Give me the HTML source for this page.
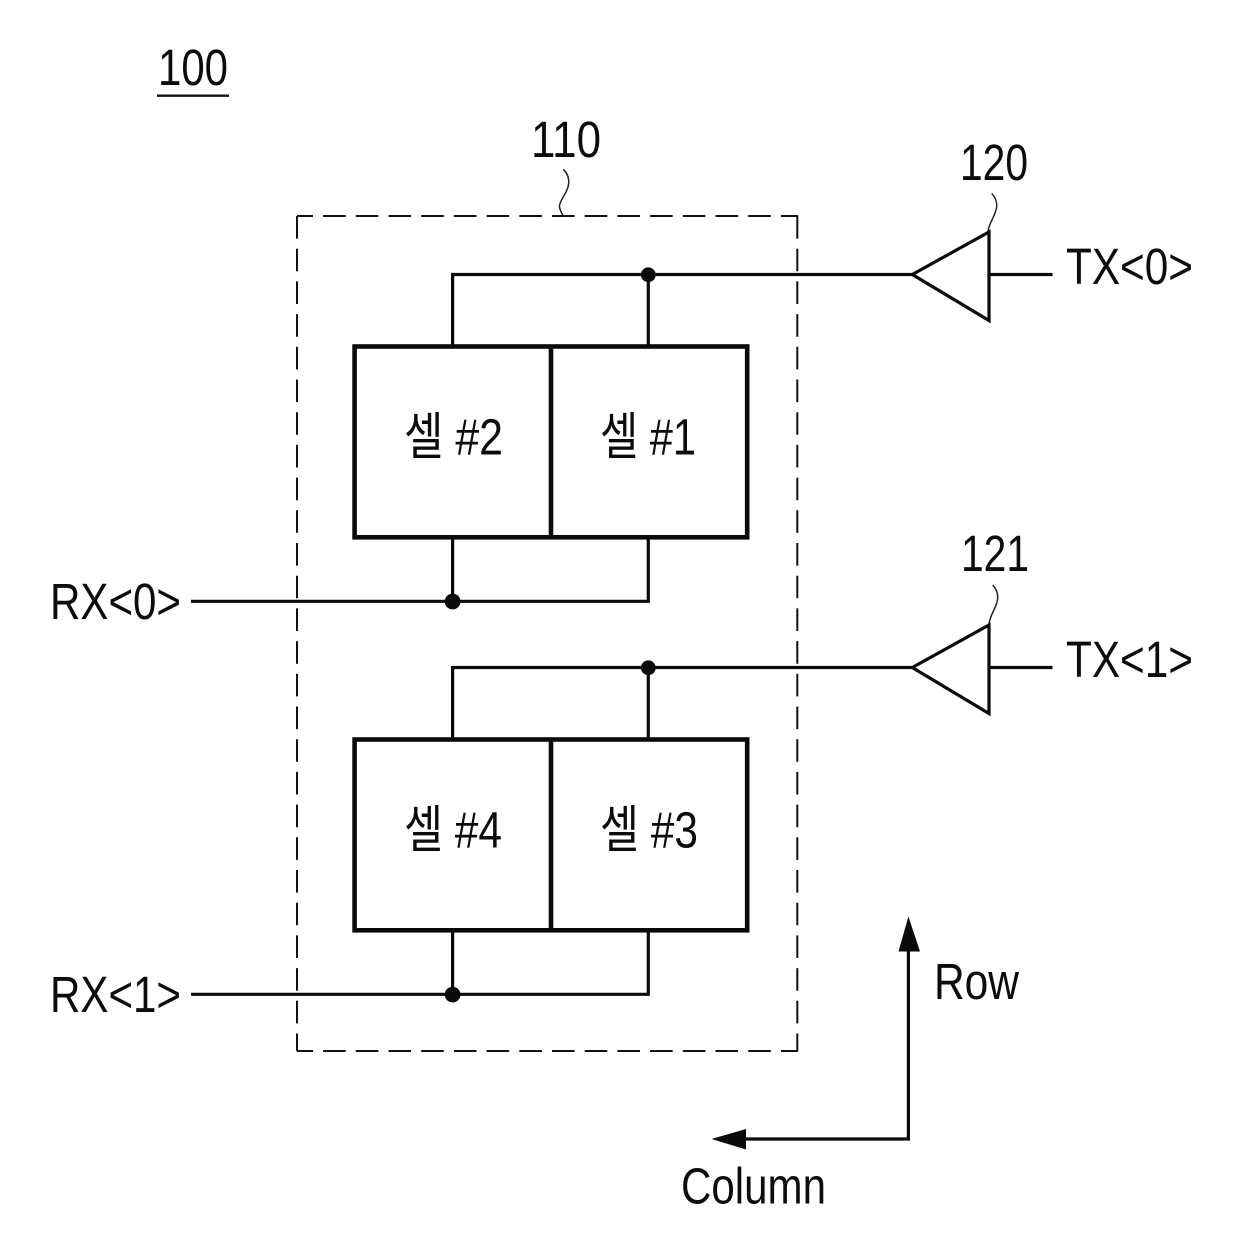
<!DOCTYPE html>
<html>
<head>
<meta charset="utf-8">
<style>
html,body{margin:0;padding:0;background:#fff;}
svg{display:block;}
text{font-family:"Liberation Sans","Noto Sans CJK KR",sans-serif;fill:#0c0c0c;}
</style>
</head>
<body>
<svg width="1240" height="1258" viewBox="0 0 1240 1258" xmlns="http://www.w3.org/2000/svg">
<rect width="1240" height="1258" fill="#fff"/>
<g font-size="51">
<text x="158" y="85" textLength="70" lengthAdjust="spacingAndGlyphs">100</text>
<text x="531" y="157" textLength="70" lengthAdjust="spacingAndGlyphs">110</text>
<text x="960" y="180" textLength="68" lengthAdjust="spacingAndGlyphs">120</text>
<text x="961" y="571" textLength="68" lengthAdjust="spacingAndGlyphs">121</text>
<text x="1066" y="284" textLength="127" lengthAdjust="spacingAndGlyphs">TX&lt;0&gt;</text>
<text x="1066" y="677" textLength="127" lengthAdjust="spacingAndGlyphs">TX&lt;1&gt;</text>
<text x="50" y="619" textLength="131" lengthAdjust="spacingAndGlyphs">RX&lt;0&gt;</text>
<text x="50" y="1012" textLength="131" lengthAdjust="spacingAndGlyphs">RX&lt;1&gt;</text>
<text x="934" y="999" textLength="85" lengthAdjust="spacingAndGlyphs">Row</text>
<text x="681" y="1203.5" textLength="145" lengthAdjust="spacingAndGlyphs">Column</text>
<text x="404" y="454.5" textLength="99" lengthAdjust="spacingAndGlyphs">셀 #2</text>
<text x="600" y="454.5" textLength="96" lengthAdjust="spacingAndGlyphs">셀 #1</text>
<text x="404" y="847.5" textLength="98" lengthAdjust="spacingAndGlyphs">셀 #4</text>
<text x="600" y="847.5" textLength="98" lengthAdjust="spacingAndGlyphs">셀 #3</text>
</g>
<line x1="157" y1="95.7" x2="229" y2="95.7" stroke="#111" stroke-width="2.4"/>
<g fill="none" stroke="#111" stroke-width="2" stroke-dasharray="22.6 10.1">
<path d="M297 216H798" stroke-dashoffset="6.6"/>
<path d="M297 1051H798" stroke-dashoffset="6.6"/>
<path d="M297 216V1051"/>
<path d="M797.3 216V1051"/>
</g>
<path d="M563.3 169.3C570 176 570 184 566 192C562 199 558 205 560 209C561 212 562 214 563.3 216" fill="none" stroke="#222" stroke-width="1.5"/>
<path d="M991.7 193.5C997 199 998 206 995 213C993 219 989 224 988 231" fill="none" stroke="#222" stroke-width="1.5"/>
<path d="M992.7 585C998 591 999 598 996 605C994 611 990 616 989 624" fill="none" stroke="#222" stroke-width="1.5"/>
<g fill="none" stroke="#0a0a0a" stroke-width="4.6">
<rect x="354.6" y="346.5" width="392.6" height="190.8"/>
<line x1="551" y1="346.5" x2="551" y2="537.3"/>
<rect x="354.6" y="739.5" width="392.6" height="190.8"/>
<line x1="551" y1="739.5" x2="551" y2="930.3"/>
</g>
<g fill="none" stroke="#0a0a0a" stroke-width="3.2">
<path d="M452.6 347V274.5H912"/>
<line x1="648.3" y1="274.5" x2="648.3" y2="347"/>
<path d="M912.3 274.5L989 232V320.5Z"/>
<line x1="989" y1="274.5" x2="1052.5" y2="274.5"/>
<path d="M912 667.5H452.6V740"/>
<line x1="648.3" y1="667.5" x2="648.3" y2="740"/>
<path d="M912.3 667.5L989 625V713.5Z"/>
<line x1="989" y1="667.5" x2="1052.5" y2="667.5"/>
<path d="M191 601.3H648.3V537M452.6 537V601.3"/>
<path d="M191 994.3H648.3V930M452.6 930V994.3"/>
<path d="M908.4 945V1139H740"/>
</g>
<g fill="#0a0a0a">
<circle cx="648.3" cy="274.8" r="7.4"/>
<circle cx="648.3" cy="667.8" r="7.4"/>
<circle cx="452.6" cy="601.5" r="7.9"/>
<circle cx="452.6" cy="994.6" r="7.9"/>
<path d="M908.4 916.5L920 951.5H898.5Z"/>
<path d="M711.5 1139L746 1129V1149.5Z"/>
</g>
</svg>
</body>
</html>
